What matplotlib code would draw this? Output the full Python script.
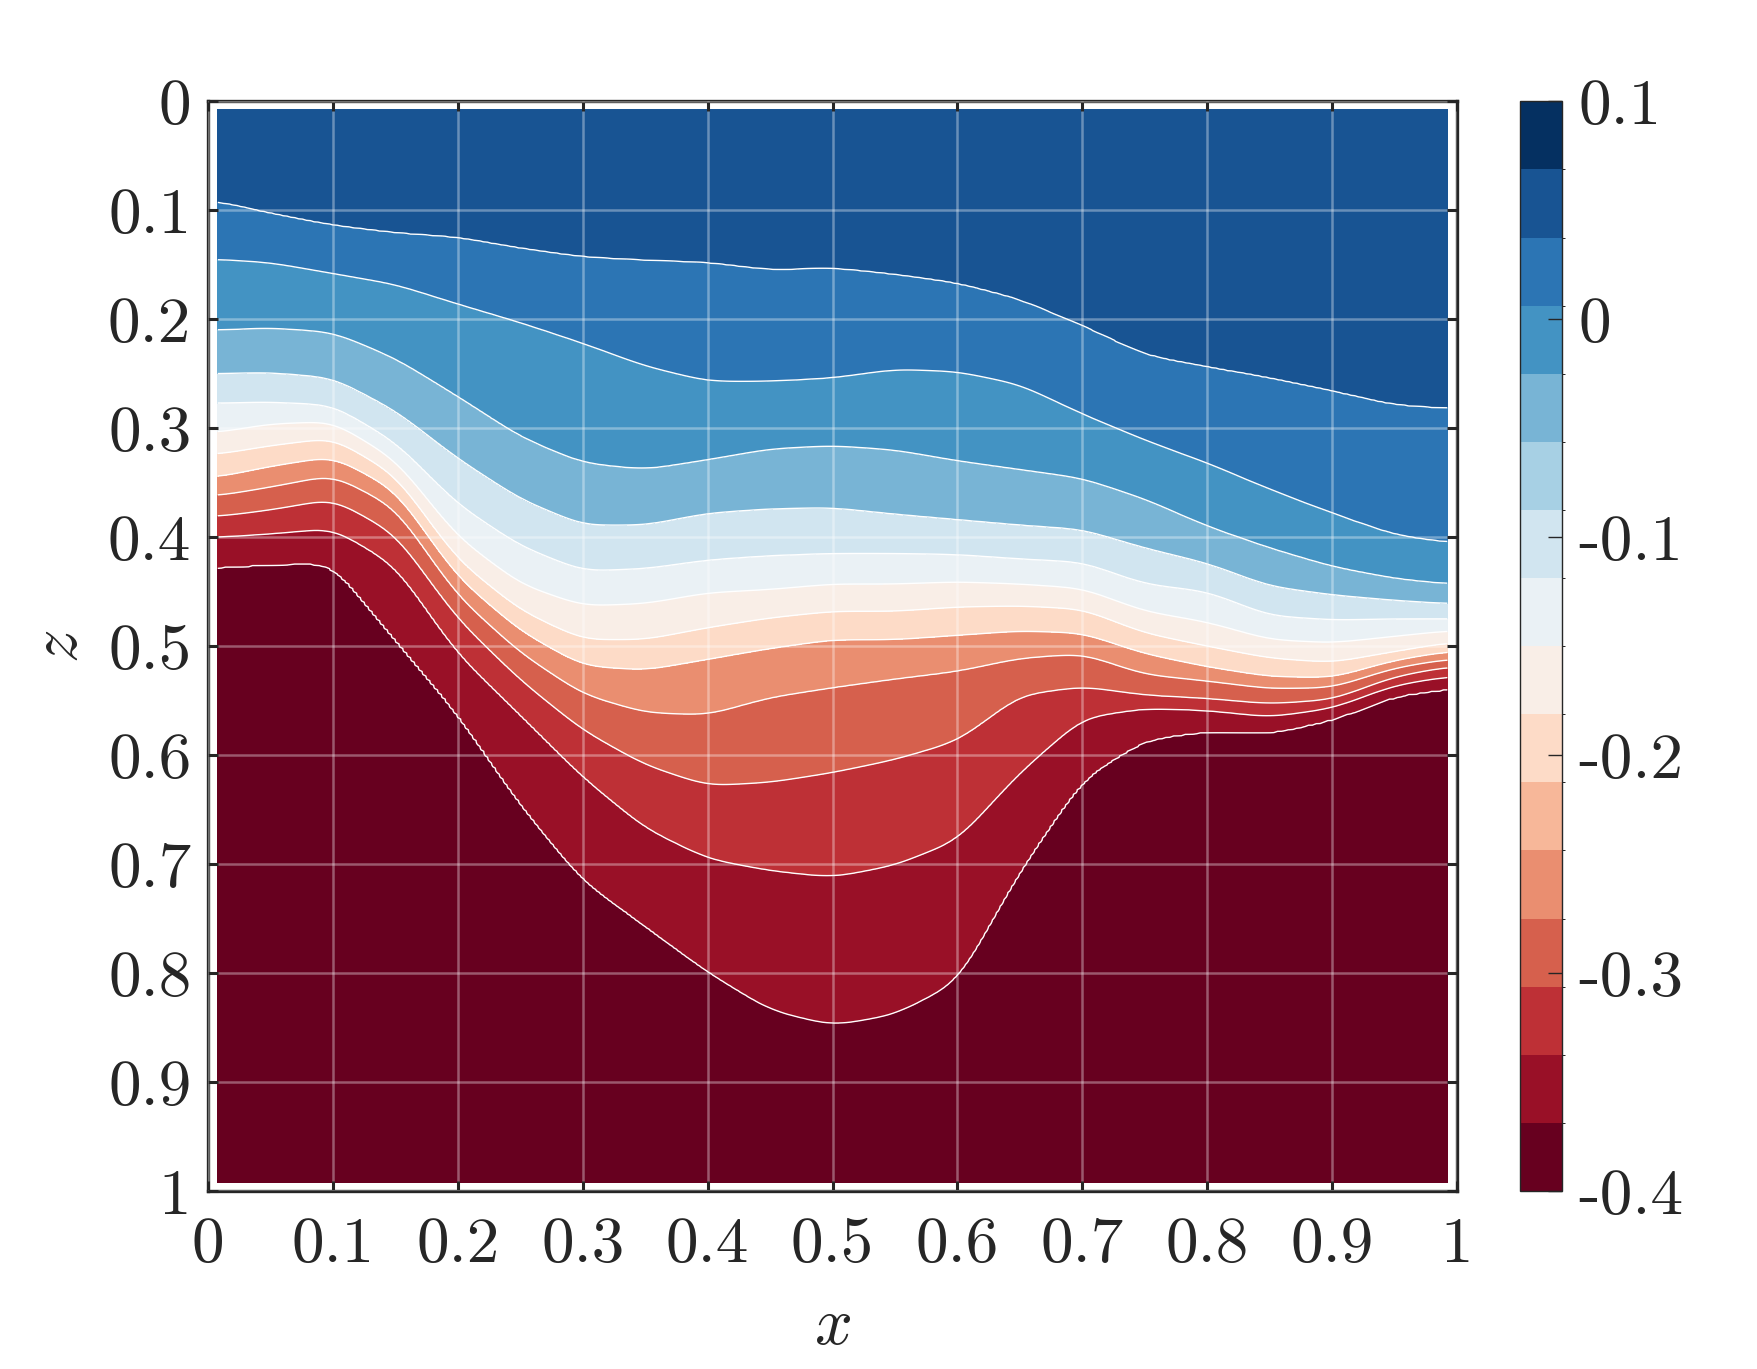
import numpy as np
import matplotlib
matplotlib.use('Agg')
import matplotlib.pyplot as plt
from matplotlib.colors import BoundaryNorm
from matplotlib.cm import ScalarMappable

plt.rcParams['mathtext.fontset'] = 'cm'
plt.rcParams['font.family'] = 'cmr10'
plt.rcParams['axes.formatter.use_mathtext'] = True

# x positions where the contour depths were read
x_cols = [0.008, 0.05, 0.1, 0.15, 0.2, 0.25, 0.3, 0.35, 0.4, 0.45, 0.5,
          0.55, 0.6, 0.65, 0.7, 0.75, 0.8, 0.85, 0.9, 0.95, 0.992]

# depth z of each contour line (top -> bottom)
z_c1 = [0.092, 0.103, 0.114, 0.121, 0.125, 0.135, 0.143, 0.146, 0.148, 0.155, 0.153,
        0.159, 0.167, 0.182, 0.206, 0.233, 0.244, 0.254, 0.266, 0.279, 0.282]
z_c2 = [0.145, 0.148, 0.158, 0.168, 0.186, 0.203, 0.222, 0.243, 0.257, 0.257, 0.254,
        0.246, 0.248, 0.260, 0.287, 0.311, 0.332, 0.356, 0.378, 0.398, 0.405]
z_c3 = [0.210, 0.208, 0.212, 0.236, 0.271, 0.308, 0.332, 0.338, 0.329, 0.319, 0.316,
        0.320, 0.330, 0.338, 0.346, 0.365, 0.390, 0.410, 0.427, 0.438, 0.443]
z_c4 = [0.250, 0.249, 0.254, 0.284, 0.328, 0.365, 0.389, 0.389, 0.378, 0.374, 0.373,
        0.379, 0.384, 0.389, 0.393, 0.410, 0.424, 0.445, 0.453, 0.458, 0.461]
z_c5 = [0.277, 0.276, 0.279, 0.313, 0.370, 0.408, 0.431, 0.429, 0.421, 0.417, 0.415,
        0.415, 0.416, 0.420, 0.423, 0.443, 0.450, 0.472, 0.476, 0.475, 0.475]
z_c6 = [0.304, 0.296, 0.294, 0.329, 0.400, 0.443, 0.463, 0.461, 0.451, 0.448, 0.443,
        0.443, 0.441, 0.443, 0.447, 0.468, 0.478, 0.494, 0.497, 0.491, 0.486]
z_c7 = [0.324, 0.316, 0.309, 0.343, 0.421, 0.467, 0.494, 0.494, 0.483, 0.474, 0.468,
        0.468, 0.464, 0.463, 0.466, 0.488, 0.500, 0.511, 0.515, 0.505, 0.497]
z_c8 = [0.345, 0.335, 0.326, 0.357, 0.437, 0.486, 0.518, 0.522, 0.512, 0.502, 0.494,
        0.494, 0.490, 0.486, 0.488, 0.507, 0.519, 0.528, 0.529, 0.513, 0.505]
z_c9 = [0.362, 0.354, 0.343, 0.373, 0.454, 0.506, 0.544, 0.561, 0.563, 0.547, 0.538,
        0.530, 0.523, 0.511, 0.507, 0.526, 0.532, 0.539, 0.538, 0.520, 0.512]
z_c10 = [0.381, 0.375, 0.365, 0.397, 0.475, 0.531, 0.577, 0.609, 0.628, 0.625, 0.616,
         0.604, 0.587, 0.545, 0.537, 0.545, 0.548, 0.553, 0.549, 0.528, 0.519]
z_c11 = [0.400, 0.397, 0.392, 0.426, 0.507, 0.563, 0.620, 0.667, 0.695, 0.706, 0.712,
         0.701, 0.678, 0.616, 0.566, 0.557, 0.559, 0.565, 0.557, 0.536, 0.528]
z_c12 = [0.428, 0.425, 0.424, 0.494, 0.562, 0.645, 0.715, 0.757, 0.799, 0.834, 0.848,
         0.838, 0.808, 0.706, 0.622, 0.586, 0.578, 0.580, 0.568, 0.546, 0.539]

# filled contour levels (band edges); lines sit on the inner ones
fill_levels = [-0.4, -0.3615, -0.323, -0.2845, -0.246, -0.2075, -0.169, -0.1305,
               -0.092, -0.0535, -0.015, 0.0235, 0.062, 0.1]
top_value = 0.08
bottom_value = -0.395

cbar_bounds = np.linspace(-0.4, 0.1, 17)
cbar_ticks = [-0.4, -0.3, -0.2, -0.1, 0, 0.1]
cbar_labels = ['-0.4', '-0.3', '-0.2', '-0.1', '0', '0.1']
axis_ticks = [0, 0.1, 0.2, 0.3, 0.4, 0.5, 0.6, 0.7, 0.8, 0.9, 1]
axis_labels = ['0', '0.1', '0.2', '0.3', '0.4', '0.5', '0.6', '0.7', '0.8', '0.9', '1']

# resample the line depths on a fine x grid, smoothed
xf = np.linspace(1 / 128, 1 - 1 / 128, 320)
win = np.hanning(21)
win = win / win.sum()
lines = []
for zc in [z_c1, z_c2, z_c3, z_c4, z_c5, z_c6, z_c7, z_c8, z_c9, z_c10, z_c11, z_c12]:
    d = np.interp(xf, x_cols, zc)
    d = np.convolve(np.pad(d, 10, mode='edge'), win, mode='valid')
    lines.append(d)
lines = np.array(lines)

# field built column by column from the line depths
line_vals = fill_levels[12:0:-1]
z_fine = np.linspace(1 / 128, 1 - 1 / 128, 700)
F = np.zeros((len(z_fine), len(xf)))
for j in range(len(xf)):
    zp = np.concatenate([[0.0], lines[:, j], [1.0]])
    vp = np.concatenate([[top_value], line_vals, [bottom_value]])
    F[:, j] = np.interp(z_fine, zp, vp)
X, Z = np.meshgrid(xf, z_fine)

cmap = plt.get_cmap('RdBu', 16)
norm = BoundaryNorm(cbar_bounds, 16)
band_colors = [cmap(int(norm(v))) for v in fill_levels[:-1]]

fig = plt.figure(figsize=(17.57, 13.69), dpi=100)
ax = fig.add_axes([0.1184, 0.130, 0.7109, 0.796])
ax.contourf(X, Z, F, levels=fill_levels, colors=band_colors, zorder=1)
ax.contour(X, Z, F, levels=fill_levels[1:13], colors='white', linewidths=1.0,
           negative_linestyles='solid', zorder=2)

ax.set_xlim(0, 1)
ax.set_ylim(1, 0)
ax.set_xticks(axis_ticks)
ax.set_yticks(axis_ticks)
ax.set_xticklabels(axis_labels)
ax.set_yticklabels(axis_labels)
ax.tick_params(direction='in', length=7, width=2.2, color='#262626', labelsize=47,
               top=True, right=True, pad=12, labelcolor='#262626')
ax.tick_params(axis='x', pad=19)
ax.grid(True, color='white', alpha=0.35, linewidth=1.8)
ax.set_axisbelow(False)
for s in ax.spines.values():
    s.set_linewidth(2.4)
    s.set_color('#262626')
ax.set_xlabel('$x$', fontsize=48, color='#262626', labelpad=16)
ax.set_ylabel('$z$', fontsize=48, color='#262626', labelpad=13)

cax = fig.add_axes([0.8651, 0.130, 0.0239, 0.796])
sm = ScalarMappable(norm=norm, cmap=cmap)
cb = fig.colorbar(sm, cax=cax, ticks=cbar_ticks)
cb.ax.set_yticklabels(cbar_labels)
cb.ax.tick_params(direction='in', length=10, width=1, color='#262626', labelsize=47,
                  pad=12, labelcolor='#262626')
cb.outline.set_linewidth(1)
cb.outline.set_edgecolor('#262626')

fig.savefig('out.png', dpi=100)
